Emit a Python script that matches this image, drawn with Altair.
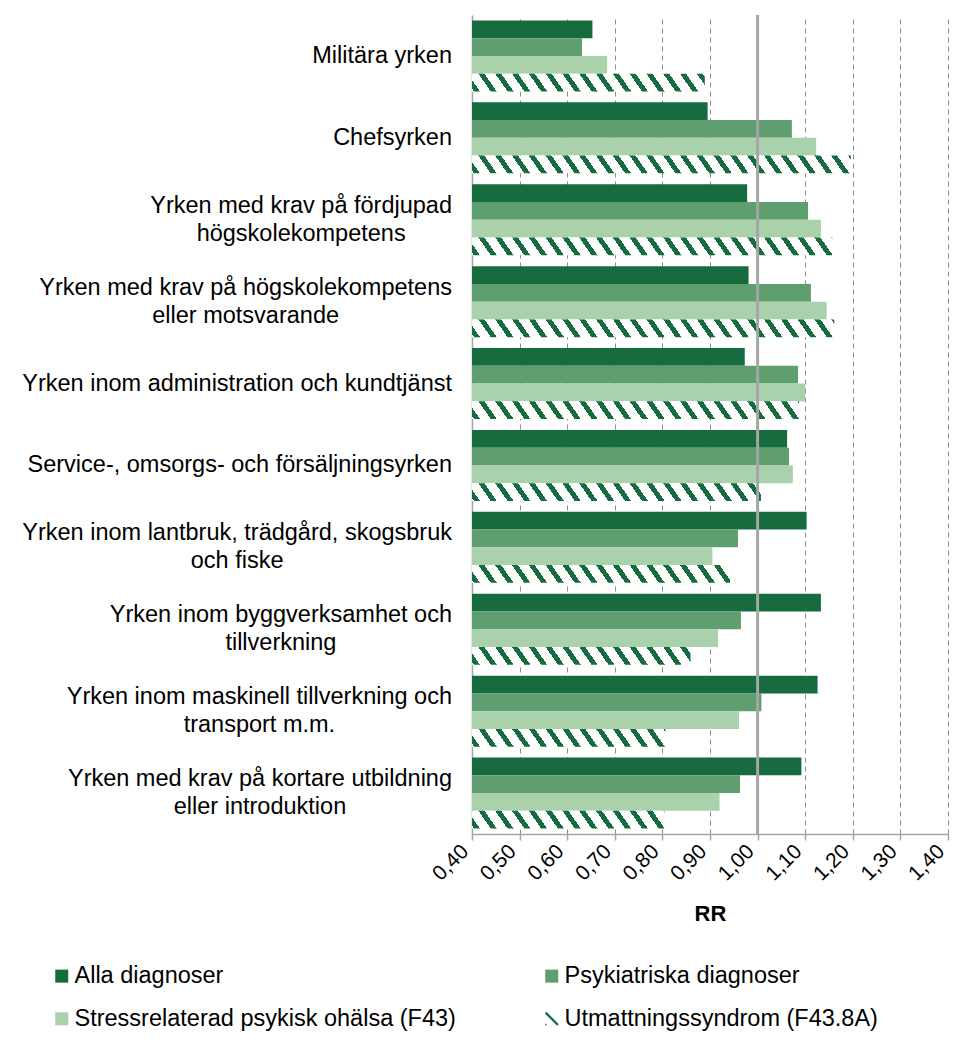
import altair as alt

# ---------------- data ----------------
categories = [
    "Militära yrken",
    "Chefsyrken",
    "Yrken med krav på fördjupad\nhögskolekompetens",
    "Yrken med krav på högskolekompetens\neller motsvarande",
    "Yrken inom administration och kundtjänst",
    "Service-, omsorgs- och försäljningsyrken",
    "Yrken inom lantbruk, trädgård, skogsbruk\noch fiske",
    "Yrken inom byggverksamhet och\ntillverkning",
    "Yrken inom maskinell tillverkning och\ntransport m.m.",
    "Yrken med krav på kortare utbildning\neller introduktion",
]
series = [
    "Alla diagnoser",
    "Psykiatriska diagnoser",
    "Stressrelaterad psykisk ohälsa (F43)",
    "Utmattningssyndrom (F43.8A)",
]
alla = [0.653, 0.895, 0.978, 0.981, 0.973, 1.062, 1.103, 1.133, 1.126, 1.092]
psyk = [0.631, 1.072, 1.106, 1.112, 1.085, 1.066, 0.959, 0.965, 1.008, 0.963]
stress = [0.684, 1.123, 1.133, 1.145, 1.100, 1.074, 0.905, 0.917, 0.961, 0.920]
utm = [0.889, 1.196, 1.157, 1.161, 1.087, 1.007, 0.942, 0.859, 0.806, 0.804]
tick_values = [0.4, 0.5, 0.6, 0.7, 0.8, 0.9, 1.0, 1.1, 1.2, 1.3, 1.4]

colors = ["#166B3F", "#5F9E6F", "#A8D1AC", "#166B3F"]
HATCH_DARK = "#166B3F"
FONT = "Liberation Sans"

# ---------------- layout constants ----------------
PLOT_W = 476
PLOT_H = 819
PAD_INNER = 0.133
PAD_OUTER = 0.0667
LABEL_SIZE = 23.5
step = PLOT_H / (len(categories) - PAD_INNER + 2 * PAD_OUTER)
BAR_H = step * (1 - PAD_INNER) / 4

# ---------------- helpers ----------------
ARIAL_W = {" ": 278, ",": 278, ".": 278, "-": 333, "(": 333, ")": 333,
           "a": 556, "b": 556, "c": 500, "d": 556, "e": 556, "f": 278, "g": 556,
           "h": 556, "i": 222, "j": 222, "k": 500, "l": 222, "m": 833, "n": 556,
           "o": 556, "p": 556, "q": 556, "r": 333, "s": 500, "t": 278, "u": 556,
           "v": 500, "w": 722, "x": 500, "y": 500, "z": 500, "å": 556, "ä": 556,
           "ö": 556, "A": 667, "C": 722, "M": 833, "S": 667, "Y": 667}


def text_width(s, size):
    return sum(ARIAL_W.get(ch, 556) for ch in s) * size / 1000.0


def hatch_gradient(v, a=0.7, period=16.8, dark=6.0):
    W = max((v - 0.4) * PLOT_W, 1.0)
    H = BAR_H
    L = W + a * H
    t = L / (W * W + a * a * H * H)
    stops = [{"offset": 0, "color": "white"}]
    u = 2.0
    while u < L:
        u1 = min(u + dark, L)
        stops += [{"offset": u / L, "color": "white"},
                  {"offset": u / L, "color": HATCH_DARK},
                  {"offset": u1 / L, "color": HATCH_DARK},
                  {"offset": u1 / L, "color": "white"}]
        u += period
    stops.append({"offset": 1, "color": "white"})
    return {"gradient": "linear", "x1": 0, "y1": 1,
            "x2": W * t, "y2": 1 - a * H * t, "stops": stops}


# ---------------- tables ----------------
all_vals = [alla, psyk, stress, utm]
rows = []
for s_i, s in enumerate(series):
    for c_i, c in enumerate(categories):
        rows.append({"category": c, "series": s, "value": all_vals[s_i][c_i]})

solid_rows = [r for r in rows if r["series"] != series[3]]
hatch_rows = [dict(r, grad=hatch_gradient(r["value"])) for r in rows if r["series"] == series[3]]

single_rows, first_rows, second_rows = [], [], []
for c in categories:
    parts = c.split("\n")
    if len(parts) == 1:
        single_rows.append({"category": c, "line": parts[0]})
    else:
        w1 = text_width(parts[0], LABEL_SIZE)
        first_rows.append({"category": c, "line": parts[0]})
        second_rows.append({"category": c, "line": parts[1], "px": -20 - w1 / 2})

# ---------------- scales ----------------
x_scale = alt.Scale(domain=[0.4, 1.4], zero=False, nice=False)
y_scale = alt.Scale(domain=categories, paddingInner=PAD_INNER, paddingOuter=PAD_OUTER)
off_scale = alt.Scale(domain=series, paddingInner=0, paddingOuter=0)
color_scale = alt.Scale(domain=series, range=colors)
stripe_path = "M-0.75,-1L1,0.75L1,1L0.75,1L-1,-0.75L-1,-1ZM-1,0.7L-0.7,1L-1,1Z"
shape_scale = alt.Scale(domain=series, range=["square", "square", "square", stripe_path])

legend = alt.Legend(
    title=None, orient="none", legendX=-422, legendY=949, columns=2,
    direction="horizontal",
    columnPadding=84, rowPadding=18, labelFont=FONT, labelFontSize=LABEL_SIZE,
    labelColor="#000000", labelLimit=600, labelOffset=1, symbolSize=169,
    symbolStrokeWidth=0, symbolOpacity=1, padding=0,
)

x_enc = alt.X(
    "value:Q", scale=x_scale, stack=None,
    axis=alt.Axis(
        values=tick_values,
        labelExpr="replace(format(datum.value, '.2f'), '.', ',')",
        labelAngle=315, labelAlign="right", labelBaseline="middle",
        labelFont=FONT, labelFontSize=21, labelColor="#000000",
        labelPadding=8, labelOffset=-7,
        tickSize=6, tickColor="#a6a6a6", tickWidth=1.5,
        domainColor="#a6a6a6", domainWidth=1.5,
        grid=True, gridColor="#8c8c8c", gridDash=[5, 4], gridWidth=1,
        title="RR", titleFont=FONT, titleFontSize=22, titleFontWeight="bold",
        titleColor="#000000", titlePadding=20,
    ),
)
y_enc = alt.Y(
    "category:N", scale=y_scale, sort=categories,
    axis=alt.Axis(labels=False, ticks=False, title=None, grid=False,
                  domainColor="#a6a6a6", domainWidth=1.5),
)
yoff = alt.YOffset("series:N", scale=off_scale, sort=series)

solid = alt.Chart(alt.Data(values=solid_rows)).mark_bar().encode(
    x=x_enc, x2=alt.datum(0.4), y=y_enc, yOffset=yoff,
    color=alt.Color("series:N", scale=color_scale, legend=legend),
)
hatched = alt.Chart(alt.Data(values=hatch_rows)).mark_bar().encode(
    x=x_enc, x2=alt.datum(0.4), y=y_enc, yOffset=yoff,
    fill=alt.Fill("grad:N", scale=None),
)
points = alt.Chart(alt.Data(values=rows)).mark_point(filled=True, opacity=0).encode(
    x=x_enc, y=y_enc, yOffset=yoff,
    color=alt.Color("series:N", scale=color_scale, legend=legend),
    shape=alt.Shape("series:N", scale=shape_scale, legend=legend),
)
ref = alt.Chart(alt.Data(values=[{"v": 1.0}])).mark_rule(
    color="#a6a6a6", strokeWidth=3
).encode(x=alt.X("v:Q", scale=x_scale))

txt_style = dict(font=FONT, fontSize=LABEL_SIZE, color="#000000", baseline="middle")
t_single = alt.Chart(alt.Data(values=single_rows)).mark_text(align="right", **txt_style).encode(
    x=alt.value(-20), y=alt.Y("category:N", scale=y_scale, sort=categories), text="line:N")
t_first = alt.Chart(alt.Data(values=first_rows)).mark_text(align="right", dy=-14, **txt_style).encode(
    x=alt.value(-20), y=alt.Y("category:N", scale=y_scale, sort=categories), text="line:N")
t_second = alt.Chart(alt.Data(values=second_rows)).mark_text(align="center", dy=14, **txt_style).encode(
    x=alt.X("px:Q", scale=None), y=alt.Y("category:N", scale=y_scale, sort=categories), text="line:N")

chart = alt.layer(points, solid, hatched, ref, t_single, t_first, t_second).properties(
    width=PLOT_W, height=PLOT_H,
    autosize=alt.AutoSizeParams(type="none"),
    padding={"left": 464, "top": 7, "right": 2, "bottom": 197},
    background="white",
).configure_view(stroke=None)

chart.save("out.html", embed_options={"renderer": "svg", "actions": False})
